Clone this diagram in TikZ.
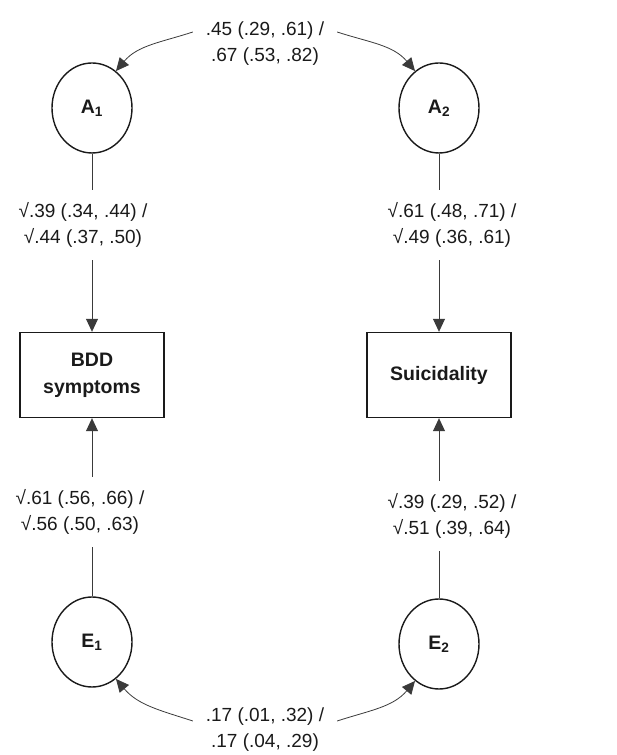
\documentclass[tikz,border=0pt]{standalone}
\usepackage{fontspec}
\setmainfont{Liberation Sans}
\usetikzlibrary{positioning, arrows.meta, shapes.geometric}
\definecolor{color_text}{HTML}{1A1A1A}
\definecolor{color_line}{HTML}{3A3A3A}
\tikzset{
  latent_node/.style={ellipse, draw=color_text, line width=1.4pt, minimum width=80pt, minimum height=90pt, inner sep=0pt, font=\fontsize{19.5}{24}\selectfont\bfseries, text=color_text},
  observed_box/.style={rectangle, draw=color_text, line width=1.4pt, minimum width=144pt, minimum height=85pt, align=center, font=\fontsize{19.5}{27}\selectfont\bfseries, text=color_text},
  path_label/.style={align=center, font=\fontsize{19}{26}\selectfont, text=color_text, inner sep=2pt, outer sep=11pt},
  path_line/.style={draw=color_line, line width=0.8pt},
  path_arrow/.style={path_line, -{Triangle[length=13pt, width=12pt]}},
}
\begin{document}
\begin{tikzpicture}[x=1pt, y=1pt]
    \useasboundingbox (0,0) rectangle (617,755);
    % latent factors
    \node[latent_node] (a_one) at (92,647) {A\textsubscript{1}};
    \node[latent_node] (a_two) at (439,647) {A\textsubscript{2}};
    \node[latent_node] (e_one) at (92,113) {E\textsubscript{1}};
    \node[latent_node] (e_two) at (439,111) {E\textsubscript{2}};
    % observed measures
    \node[observed_box] (bdd) at (92,380) {BDD\\symptoms};
    \node[observed_box] (suic) at (439,380) {Suicidality};
    % path estimates
    \node[path_label] (lab_a_one) at (83,530) {√.39 (.34, .44) /\\√.44 (.37, .50)};
    \node[path_label] (lab_a_two) at (452,530) {√.61 (.48, .71) /\\√.49 (.36, .61)};
    \node[path_label] (lab_e_one) at (80,243) {√.61 (.56, .66) /\\√.56 (.50, .63)};
    \node[path_label] (lab_e_two) at (452,239) {√.39 (.29, .52) /\\√.51 (.39, .64)};
    \node[path_label] (lab_cov_a) at (265,711) {.45 (.29, .61) /\\.67 (.53, .82)};
    \node[path_label] (lab_cov_e) at (265,25) {.17 (.01, .32) /\\.17 (.04, .29)};
    % loadings
    \draw[path_line] (a_one.south) -- (a_one.south |- lab_a_one.north);
    \draw[path_arrow] (lab_a_one.south -| bdd.north) -- (bdd.north);
    \draw[path_line] (a_two.south) -- (a_two.south |- lab_a_two.north);
    \draw[path_arrow] (lab_a_two.south -| suic.north) -- (suic.north);
    \draw[path_line] (e_one.north) -- (e_one.north |- lab_e_one.south);
    \draw[path_arrow] (lab_e_one.north -| bdd.south) -- (bdd.south);
    \draw[path_line] (e_two.north) -- (e_two.north |- lab_e_two.south);
    \draw[path_arrow] (lab_e_two.north -| suic.south) -- (suic.south);
    % covariances
    \draw[path_arrow] ([yshift=12pt]lab_cov_a.west) to[out=198, in=50] (a_one.57);
    \draw[path_arrow] ([yshift=12pt]lab_cov_a.east) to[out=-18, in=130] (a_two.123);
    \draw[path_arrow] ([yshift=9pt]lab_cov_e.west) to[out=162, in=-50] (e_one.-57);
    \draw[path_arrow] ([yshift=9pt]lab_cov_e.east) to[out=18, in=-130] (e_two.-123);
  \end{tikzpicture}
\end{document}
